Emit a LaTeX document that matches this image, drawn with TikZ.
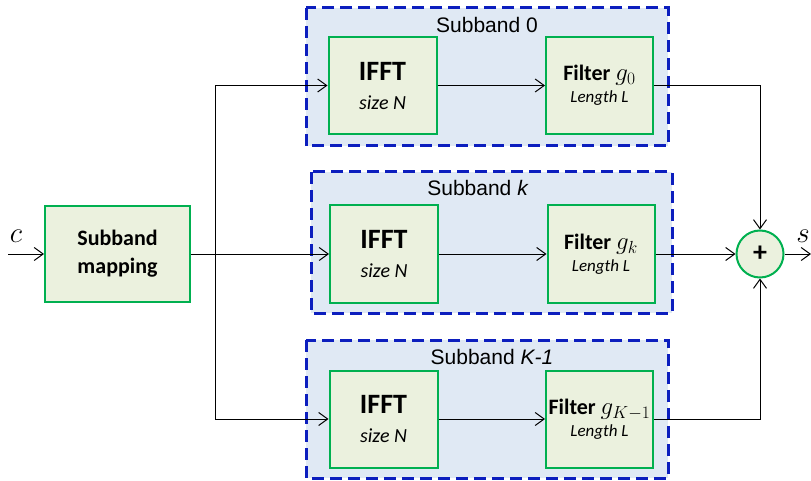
\RequirePackage{fix-cm}
\documentclass[tikz,border=0pt]{standalone}
\usepackage{fontspec}
\setmainfont{Carlito}
\newfontfamily\arialf{Liberation Sans}
\usetikzlibrary{arrows.meta}
\definecolor{grn}{RGB}{0,176,80}
\definecolor{grnfill}{RGB}{235,241,222}
\definecolor{bluedash}{RGB}{12,30,190}
\definecolor{bluefill}{RGB}{224,233,244}
\tikzset{
  blk/.style={draw=grn, fill=grnfill, line width=2pt, inner sep=0pt, align=center},
  sbbox/.style={draw=bluedash, fill=bluefill, line width=3pt, dash pattern=on 12pt off 6pt},
  sblabel/.style={font=\arialf\fontsize{21}{24}\selectfont, inner sep=0pt},
  conn/.style={line width=1pt, -{Straight Barb[length=9pt,width=13pt,line width=1pt]}},
  plain/.style={line width=1pt},
  ifftt/.style={blk, minimum width=108pt, minimum height=97pt, font=\fontsize{20}{29}\selectfont},
  filtt/.style={blk, minimum width=107pt, minimum height=97pt, font=\fontsize{17}{22}\selectfont},
}
\newcommand{\iffttext}{{\fontsize{28}{30}\selectfont\bfseries IFFT}\\{\itshape size N}}
\newcommand{\filttext}[1]{{\fontsize{22}{23}\selectfont\bfseries Filter {\fontsize{25}{25}\selectfont$#1$}}\\{\itshape Length L}}
\begin{document}
\begin{tikzpicture}[x=1pt,y=-1pt]
\useasboundingbox (0,0) rectangle (811,481);
% subband boxes
\draw[sbbox] (306,8) rectangle (668,146);
\draw[sbbox] (311,172) rectangle (672,313);
\draw[sbbox] (306,340) rectangle (668,478);
\node[sblabel] (l0) at (487,25) {Subband 0};
\node[sblabel] (lk) at (478,188) {Subband \textit{k}};
\node[sblabel] (lK) at (492,357) {Subband \textit{K-1}};
% blocks
\node[blk, minimum width=145pt, minimum height=96pt, font=\fontsize{22}{28}\selectfont\bfseries] (map) at (117.5,254)
  {Subband\\mapping};
\node[ifftt] (i0) at (382.5,85.5) {\iffttext};
\node[filtt] (f0) at (599.5,85.5) {\filttext{g_0}};
\node[ifftt] (ik) at (384,254) {\iffttext};
\node[filtt] (fk) at (601,254) {\filttext{g_k}};
\node[ifftt] (i2) at (383.5,419) {\iffttext};
\node[filtt] (f2) at (599.5,419) {\filttext{g_{K-1}}};
\node[blk, circle, minimum size=47pt] (add) at (760,254) {\fontsize{28}{28}\selectfont\bfseries +};
% coordinates
\coordinate (in) at (8,254);
\coordinate (split) at (215,254);
\coordinate (out) at (811,254);
\node[inner sep=0pt, font=\fontsize{29}{29}\selectfont] (c) at (16,236) {$c$};
\node[inner sep=0pt, font=\fontsize{29}{29}\selectfont] (s) at (803,236) {$s$};
% connectors
\draw[conn] (in) -- (map);
\draw[plain] (map) -- (split);
\draw[conn] (split) |- (i0);
\draw[conn] (split) -- (ik);
\draw[conn] (split) |- (i2);
\draw[conn] (i0) -- (f0);
\draw[conn] (ik) -- (fk);
\draw[conn] (i2) -- (f2);
\draw[conn] (f0) -| (add);
\draw[conn] (fk) -- (add);
\draw[conn] (f2) -| (add);
\draw[conn] (add) -- (out);
\end{tikzpicture}
\end{document}
